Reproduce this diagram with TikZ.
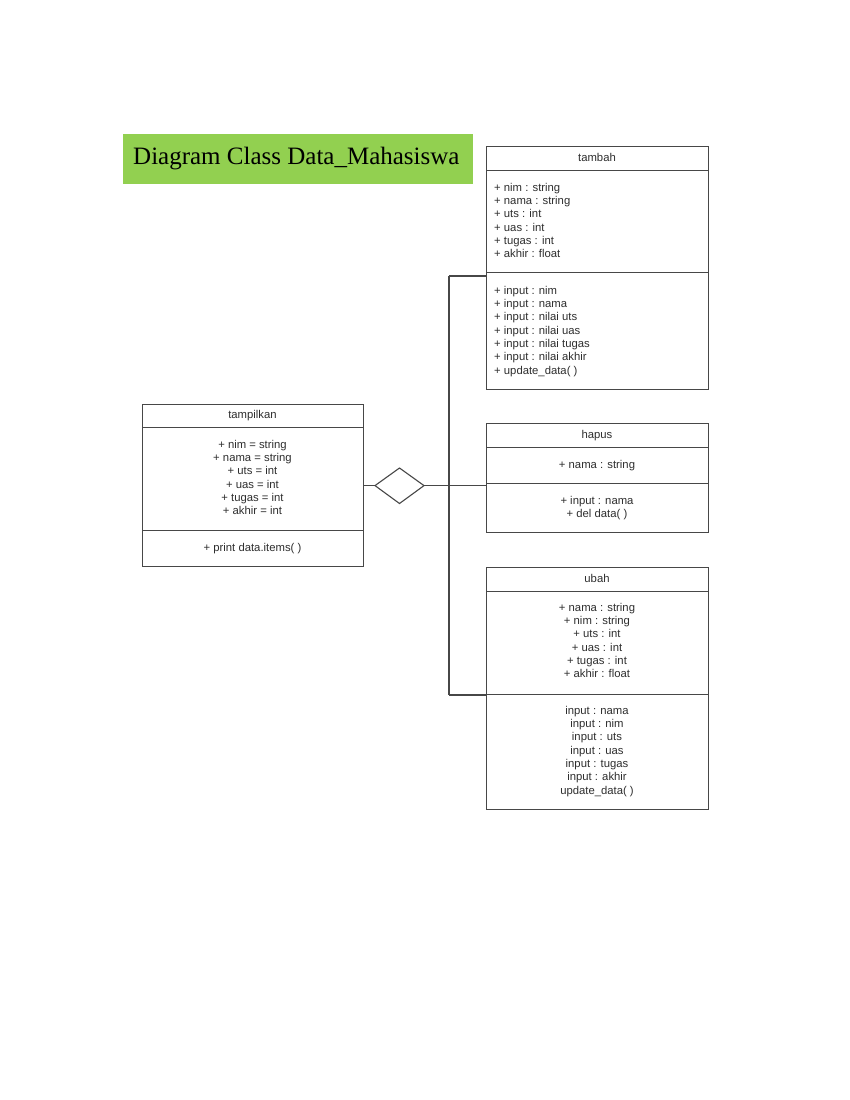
\documentclass[tikz,border=0pt]{standalone}
\usepackage{fontspec}
\setmainfont{Liberation Sans}
\newfontfamily\titlefont{Liberation Serif}
\begin{document}
\begin{tikzpicture}[x=1pt,y=-1pt,
  box/.style={draw=black!72,line width=1pt,fill=white,inner sep=0pt,anchor=north west},
  conn/.style={draw=black!72,line width=1.1pt},
  txt/.style={inner sep=0pt,font=\fontsize{11.3}{13.3}\selectfont,text=black!82},
  lt/.style={txt,anchor=base west},
  ct/.style={txt,anchor=base}]
\useasboundingbox[fill=white] (0,0) rectangle (850,1100);
% title
\node[fill={rgb,255:red,146;green,208;blue,80},minimum width=350pt,minimum height=50pt,inner sep=0pt,anchor=north west] (titlebox) at (123,134) {};
\node[anchor=base west,inner sep=0pt,font=\titlefont\fontsize{25}{30}\selectfont] (titletext) at (133,164) {Diagram Class Data\_Mahasiswa};
% tambah
\node[box,minimum width=222pt,minimum height=24pt] (tambahH) at (486,146) {};
\node[box,minimum width=222pt,minimum height=102pt] (tambahA) at (486,170) {};
\node[box,minimum width=222pt,minimum height=117pt] (tambahM) at (486,272) {};
\node[ct] (tambahT) at (597,161.5) {tambah};
\foreach \t [count=\i from 0] in {+ nim : string,+ nama : string,+ uts : int,+ uas : int,+ tugas : int,+ akhir : float}
  \node[lt] (tambahA\i) at (494,191.3+13.3*\i) {\t};
\foreach \t [count=\i from 0] in {+ input : nim,+ input : nama,+ input : nilai uts,+ input : nilai uas,+ input : nilai tugas,+ input : nilai akhir,+ update\_data( )}
  \node[lt] (tambahM\i) at (494,294.3+13.3*\i) {\t};
% tampilkan
\node[box,minimum width=221pt,minimum height=23pt] (tampH) at (142,404) {};
\node[box,minimum width=221pt,minimum height=103pt] (tampA) at (142,427) {};
\node[box,minimum width=221pt,minimum height=36pt] (tampM) at (142,530) {};
\node[ct] (tampT) at (252.5,418.5) {tampilkan};
\foreach \t [count=\i from 0] in {+ nim = string,+ nama = string,+ uts = int,+ uas = int,+ tugas = int,+ akhir = int}
  \node[ct] (tampA\i) at (252.5,448.3+13.3*\i) {\t};
\node[ct] (tampM0) at (252.5,551.3) {+ print data.items( )};
% hapus
\node[box,minimum width=222pt,minimum height=24pt] (hapusH) at (486,423) {};
\node[box,minimum width=222pt,minimum height=36pt] (hapusA) at (486,447) {};
\node[box,minimum width=222pt,minimum height=49pt] (hapusM) at (486,483) {};
\node[ct] (hapusT) at (597,438.5) {hapus};
\node[ct] (hapusA0) at (597,468.3) {+ nama : string};
\node[ct] (hapusM0) at (597,504.3) {+ input : nama};
\node[ct] (hapusM1) at (597,517.6) {+ del data( )};
% ubah
\node[box,minimum width=222pt,minimum height=24pt] (ubahH) at (486,567) {};
\node[box,minimum width=222pt,minimum height=103pt] (ubahA) at (486,591) {};
\node[box,minimum width=222pt,minimum height=115pt] (ubahM) at (486,694) {};
\node[ct] (ubahT) at (597,582.5) {ubah};
\foreach \t [count=\i from 0] in {+ nama : string,+ nim : string,+ uts : int,+ uas : int,+ tugas : int,+ akhir : float}
  \node[ct] (ubahA\i) at (597,611.3+13.3*\i) {\t};
\foreach \t [count=\i from 0] in {input : nama,input : nim,input : uts,input : uas,input : tugas,input : akhir,update\_data( )}
  \node[ct] (ubahM\i) at (597,714.3+13.3*\i) {\t};
% diamond
\coordinate (dl) at (375,485.6);
\coordinate (dt) at (399.5,468);
\coordinate (dr) at (424,485.6);
\coordinate (db) at (399.5,503.5);
\draw[conn,fill=white] (dl) -- (dt) -- (dr) -- (db) -- cycle;
\coordinate (bus) at (449,485.6);
\coordinate (busT) at (449,276);
\coordinate (busB) at (449,695);
\draw[conn] (tampA.east |- dl) -- (dl);
\draw[conn] (dr) -- (bus) -- (hapusM.west |- bus);
\draw[conn] (busT) -- (busB);
\draw[conn] (busT) -- (tambahM.west |- busT);
\draw[conn] (busB) -- (ubahM.west |- busB);
\end{tikzpicture}
\end{document}
